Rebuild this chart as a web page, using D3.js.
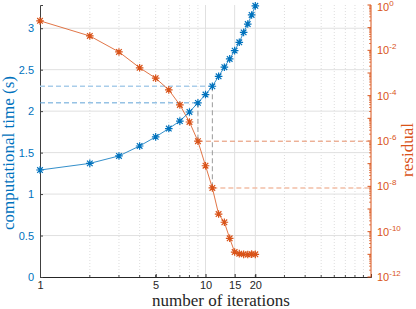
<!DOCTYPE html>
<html>
<head>
<meta charset="utf-8">
<script src="https://cdn.jsdelivr.net/npm/d3@7"></script>
<style>
  body { margin: 0; background: #fff; }
  svg { display: block; }
</style>
</head>
<body>
<div id="chart"></div>
<script>
// values
const iterations = [1, 2, 3, 4, 5, 6, 7, 8, 9, 10, 11, 12, 13, 14, 15, 16, 17, 18, 19, 20];
const compTime = [1.29, 1.37, 1.46, 1.58, 1.69, 1.79, 1.88, 1.99, 2.10, 2.20,
                  2.30, 2.42, 2.53, 2.63, 2.73, 2.83, 2.95, 3.05, 3.16, 3.27];
const residual = [2.0e-1, 4.3e-2, 8.5e-3, 1.7e-3, 5.9e-4, 1.8e-4, 3.9e-5, 6.9e-6, 9.8e-7, 8.1e-8,
                  8.5e-9, 6.0e-10, 2.6e-10, 5.1e-11, 1.26e-11, 1.07e-11, 1.0e-11, 9.8e-12, 1.02e-11, 1.0e-11];
const highlightIters = [9, 11];
const xTickValues = [1, 5, 10, 15, 20];
const leftTickValues = [0, 0.5, 1, 1.5, 2, 2.5, 3];
const rightTickExps = [0, -2, -4, -6, -8, -10, -12];

const blue = "#0072BD";
const orange = "#D95319";

const W = 416, H = 309;
const margin = {top: 5, right: 45, bottom: 32, left: 40};
const width = W - margin.left - margin.right;
const height = H - margin.top - margin.bottom;

const svg = d3.select("#chart").append("svg")
    .attr("width", W)
    .attr("height", H);

const g = svg.append("g")
    .attr("transform", `translate(${margin.left},${margin.top})`);

const x = d3.scaleLog().domain([1, 100]).range([0, width]);
const yL = d3.scaleLinear().domain([0, 3.28]).range([height, 0]);
const yR = d3.scaleLog().domain([1e-12, 1]).range([height, 0]);

// minor values for log x axis
const xMinor = [];
for (const dec of [1, 10]) for (let k = 2; k <= 9; k++) xMinor.push(k * dec);

// grid
g.selectAll(".gx-minor").data(xMinor.filter(v => ![10, 15, 20].includes(v)))
  .enter().append("line")
    .attr("x1", d => x(d)).attr("x2", d => x(d))
    .attr("y1", 0).attr("y2", height)
    .attr("stroke", "#cfcfcf").attr("stroke-width", 0.7)
    .attr("stroke-dasharray", "1,2");

g.selectAll(".gx-major").data([10, 15, 20])
  .enter().append("line")
    .attr("x1", d => x(d)).attr("x2", d => x(d))
    .attr("y1", 0).attr("y2", height)
    .attr("stroke", "#e0e0e0").attr("stroke-width", 1);

g.selectAll(".gy").data(leftTickValues.filter(v => v > 0))
  .enter().append("line")
    .attr("x1", 0).attr("x2", width)
    .attr("y1", d => yL(d)).attr("y2", d => yL(d))
    .attr("stroke", "#e0e0e0").attr("stroke-width", 1);

// bottom axis
const xAxis = d3.axisBottom(x).tickValues(xTickValues).tickSize(-3).tickPadding(4)
    .tickFormat(d3.format("d"));
const gx = g.append("g")
    .attr("transform", `translate(0,${height})`)
    .call(xAxis);
gx.selectAll(".tick line").attr("stroke", "#262626");
gx.select(".domain").attr("stroke", "#262626");
gx.selectAll("text").attr("fill", "#262626")
    .style("font", "11px 'Liberation Sans', Arial, sans-serif");
gx.selectAll(".minor").data(xMinor).enter().append("line")
    .attr("x1", d => x(d)).attr("x2", d => x(d))
    .attr("y1", 0).attr("y2", -2)
    .attr("stroke", "#262626").attr("stroke-width", 0.8);

// left axis
const gl = g.append("g")
    .call(d3.axisLeft(yL).tickValues(leftTickValues).tickSize(-3).tickPadding(6)
        .tickFormat(d3.format("")));
gl.select(".domain").attr("stroke", "#404040");
gl.selectAll(".tick line").attr("stroke", "#404040");
gl.selectAll("text").attr("fill", blue)
    .style("font", "11px 'Liberation Sans', Arial, sans-serif");

// right axis (log)
const gr = g.append("g").attr("transform", `translate(${width},0)`);
gr.append("line").attr("x1", 0).attr("x2", 0).attr("y1", 0).attr("y2", height)
    .attr("stroke", orange).attr("stroke-width", 1);
const rMinor = [];
for (let e = -12; e < 0; e++) for (let k = 2; k <= 9; k++) rMinor.push(k * Math.pow(10, e));
gr.selectAll(".rminor").data(rMinor).enter().append("line")
    .attr("x1", 0).attr("x2", -2)
    .attr("y1", d => yR(d)).attr("y2", d => yR(d))
    .attr("stroke", orange).attr("stroke-width", 0.7);
gr.selectAll(".rmajor").data(d3.range(-12, 1)).enter().append("line")
    .attr("x1", 0).attr("x2", -3.5)
    .attr("y1", d => yR(Math.pow(10, d))).attr("y2", d => yR(Math.pow(10, d)))
    .attr("stroke", orange).attr("stroke-width", 1);
const rl = gr.selectAll(".rlab").data(rightTickExps).enter().append("text")
    .attr("x", 6)
    .attr("y", d => yR(Math.pow(10, d)) + (d === 0 ? 6 : 4))
    .attr("fill", orange)
    .style("font", "11px 'Liberation Sans', Arial, sans-serif");
rl.append("tspan").text("10");
rl.append("tspan").attr("dy", -5).style("font-size", "8px").text(d => d);

// axis titles
svg.append("text")
    .attr("transform", "translate(14,153) rotate(-90)")
    .attr("text-anchor", "middle")
    .attr("fill", blue)
    .style("font", "17px 'Liberation Serif', serif")
    .text("computational time (s)");

svg.append("text")
    .attr("transform", "translate(413,150) rotate(-90)")
    .attr("text-anchor", "middle")
    .attr("fill", orange)
    .style("font", "17px 'Liberation Serif', serif")
    .text("residual");

svg.append("text")
    .attr("x", 221)
    .attr("y", 306)
    .attr("text-anchor", "middle")
    .attr("fill", "#262626")
    .style("font", "17px 'Liberation Serif', serif")
    .text("number of iterations");

// highlight guides
const guideStyle = [
  {blue: "#5fa3d6", orange: "#e48d68", w: 1, dash: "5,3"},
  {blue: "#a9cdea", orange: "#f2bfa6", w: 1.5, dash: "5,3"}
];
highlightIters.forEach((it, k) => {
  const i = iterations.indexOf(it);
  const st = guideStyle[k];
  g.append("line")
    .attr("x1", 0).attr("x2", x(it))
    .attr("y1", yL(compTime[i])).attr("y2", yL(compTime[i]))
    .attr("stroke", st.blue).attr("stroke-width", st.w).attr("stroke-dasharray", st.dash);
  g.append("line")
    .attr("x1", x(it)).attr("x2", x(it))
    .attr("y1", yL(compTime[i])).attr("y2", yR(residual[i]))
    .attr("stroke", "#9a9a9a").attr("stroke-width", 1).attr("stroke-dasharray", st.dash);
  g.append("line")
    .attr("x1", x(it)).attr("x2", width)
    .attr("y1", yR(residual[i])).attr("y2", yR(residual[i]))
    .attr("stroke", st.orange).attr("stroke-width", st.w).attr("stroke-dasharray", st.dash);
});

// series
const star = "M-3.8,0H3.8M0,-3.8V3.8M-2.8,-2.8L2.8,2.8M-2.8,2.8L2.8,-2.8";

function drawSeries(vals, yScale, color) {
  const pts = iterations.map((it, i) => [x(it), yScale(vals[i])]);
  g.append("path")
    .attr("d", d3.line()(pts))
    .attr("fill", "none")
    .attr("stroke", color)
    .attr("stroke-width", 0.8);
  g.selectAll(null).data(pts).enter().append("path")
    .attr("d", star)
    .attr("transform", d => `translate(${d[0]},${d[1]})`)
    .attr("fill", "none")
    .attr("stroke", color)
    .attr("stroke-width", 1.2);
}

drawSeries(residual, yR, orange);
drawSeries(compTime, yL, blue);
</script>
</body>
</html>
